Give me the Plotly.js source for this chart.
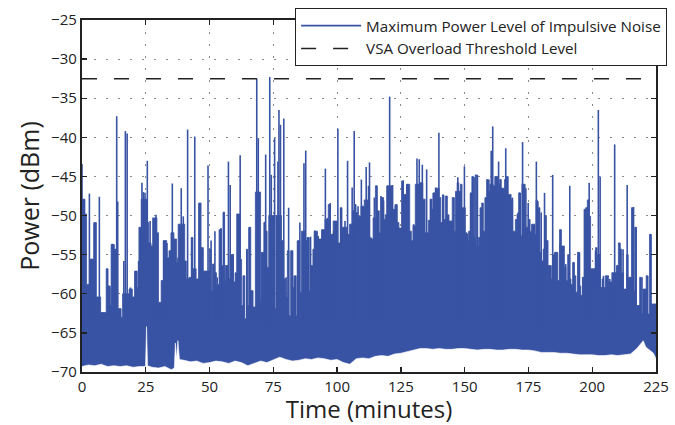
<!DOCTYPE html>
<html><head><meta charset="utf-8">
<script src="https://cdn.plot.ly/plotly-3.0.1.min.js"></script>
<style>html,body{margin:0;padding:0;background:#fff}#chart{width:675px;height:425px}</style>
</head><body><div id="chart"></div>
<script>
// ---- data ----
const xTicks = [0, 25, 50, 75, 100, 125, 150, 175, 200, 225];
const yTicks = [-70, -65, -60, -55, -50, -45, -40, -35, -30, -25];
const thresholdLevel = -32.5;

// lower edge (noise floor) of the trace
const floorTime = [0,2.5,5,7.5,10,12.5,15,17.5,20,22.5,24.9,25.3,25.7,27.5,30,32.5,35,36.2,36.6,37.0,37.6,38.2,40,42.5,45,47.5,50,52.5,55,57.5,60,62.5,65,67.5,70,72.5,75,77.5,80,82.5,85,87.5,90,92.5,95,97.5,100,102.5,105,107.5,110,112.5,115,117.5,120,122.5,125,127.5,130,132.5,135,137.5,140,142.5,145,147.5,150,152.5,155,157.5,160,162.5,165,167.5,170,172.5,175,177.5,180,182.5,185,187.5,190,192.5,195,197.5,200,202.5,205,207.5,210,212.5,215,217.5,219,220,221,222.5,224,225];
const floorLevel = [-69.3,-69.1,-69.2,-69.0,-69.3,-69.2,-69.3,-69.2,-69.4,-69.3,-69.3,-64.2,-69.2,-69.4,-69.5,-69.3,-69.7,-69.5,-66.3,-68.3,-66.0,-68.4,-68.5,-68.7,-68.6,-68.9,-68.8,-68.6,-68.7,-68.9,-68.6,-68.8,-69.2,-68.9,-68.6,-68.8,-68.5,-68.1,-68.4,-68.6,-68.5,-68.3,-68.4,-68.2,-68.3,-68.5,-68.4,-68.8,-69.0,-68.3,-68.2,-68.3,-68.0,-67.9,-68.0,-67.7,-67.6,-67.4,-67.2,-67.0,-67.0,-67.1,-67.0,-67.1,-67.1,-67.0,-67.0,-67.1,-67.2,-67.1,-67.1,-67.2,-67.2,-67.1,-67.1,-67.2,-67.2,-67.3,-67.5,-67.5,-67.5,-67.6,-67.6,-67.7,-67.8,-67.8,-67.8,-67.9,-67.9,-67.8,-67.9,-67.8,-67.7,-67.0,-66.3,-66.0,-66.8,-67.2,-67.6,-68.3];

// upper envelope of the dense body (step levels, minutes / dBm)
const envTime = [0,1.15,1.79,3.08,4.61,5.64,7.31,9.49,10.13,11.02,11.41,12.69,13.97,15.26,15.90,18.46,19.74,20.64,21.67,22.31,23.2,25.51,26.15,27.05,27.69,29.36,30.0,31.03,31.92,33.21,34.1,34.87,36.03,37.05,37.69,40.26,40.9,42.18,42.82,43.46,44.74,45.77,46.67,47.56,49.87,50.51,51.15,51.79,52.69,53.72,54.62,55.26,55.9,
56.15,57.43,58.07,59.36,60.0,60.64,61.92,62.56,63.2,63.84,64.48,64.87,65.38,66.15,67.05,67.95,70.0,70.51,71.28,71.79,72.56,73.2,75.38,76.0,78.2,78.97,79.87,80.51,81.15,81.79,82.69,83.33,83.97,84.61,85.38,86.0,87.56,88.2,89.1,89.74,90.51,91.02,92.3,93.97,95.25,96.53,97.18,98.46,100.0,101.28,101.92,103.84,104.87,106.15,106.79,107.43,108.07,109.36,110.64,111.92,112.56,
113.08,114.1,115.0,115.64,116.54,117.18,118.21,118.85,119.49,121.8,122.7,123.6,124.23,125.26,125.9,127.18,128.46,129.1,129.74,130.64,132.31,133.59,134.49,135.77,136.41,137.05,137.7,138.46,140.0,140.64,141.28,141.92,142.56,143.21,143.85,145.13,145.77,146.41,147.05,147.69,148.33,148.97,150.26,150.9,151.54,152.18,152.82,153.46,154.1,154.74,155.38,156.03,156.67,157.31,157.95,158.59,159.23,159.87,161.15,161.8,163.08,163.72,164.36,165.64,166.28,166.92,168.21,168.85,
169.23,169.87,170.51,171.15,171.79,172.44,173.72,175.0,175.64,176.28,177.56,177.95,178.46,178.85,179.49,180.13,180.77,181.41,182.05,182.69,183.97,184.62,185.26,186.54,187.18,187.82,189.1,189.74,190.38,191.03,191.67,192.31,192.95,193.59,194.23,194.87,195.51,196.15,196.79,197.44,198.08,198.72,199.36,201.28,201.92,203.21,203.85,204.49,205.13,206.41,207.69,208.97,209.62,210.26,210.9,211.54,212.18,213.46,214.1,215.38,216.03,216.67,217.31,218.59,219.23,219.87,221.15,221.79,222.44,223.08,224.36,225];
const envLevel = [-47.9,-49.8,-58.8,-55.6,-50.9,-60.4,-62.4,-56.8,-59.0,-61.5,-53.7,-54.3,-61.9,-63.0,-60.0,-59.4,-60.4,-57.1,-59.2,-51.5,-47.9,-50.9,-53.5,-53.9,-50.3,-52.2,-61.1,-58.3,-53.2,-55.4,-54.5,-52.2,-53.0,-56.0,-51.1,-55.8,-58.1,-57.9,-52.8,-56.8,-58.1,-48.4,-54.1,-57.1,-54.3,-59.6,-56.2,-57.3,-58.8,-51.8,-56.4,-49.6,-58.3,
-56.4,-58.1,-55.0,-58.5,-57.3,-49.8,-55.6,-61.5,-57.7,-63.2,-54.3,-61.5,-51.5,-59.6,-61.7,-47.0,-60.9,-54.7,-50.9,-52.0,-56.6,-50.0,-61.9,-50.0,-53.2,-58.1,-60.4,-54.5,-62.8,-54.5,-59.2,-57.7,-62.8,-53.2,-59.8,-52.0,-53.2,-52.8,-59.6,-56.4,-54.3,-52.0,-53.0,-51.8,-50.5,-48.6,-52.4,-50.7,-53.5,-49.0,-51.5,-52.4,-51.1,-49.4,-48.6,-49.6,-50.1,-48.8,-48.0,-48.0,-52.8,
-53.0,-50.3,-46.2,-49.4,-52.2,-47.7,-50.5,-49.9,-46.2,-49.2,-48.6,-50.9,-51.6,-45.6,-47.3,-46.0,-52.0,-53.2,-51.3,-46.0,-45.8,-47.9,-52.2,-50.6,-47.9,-49.2,-47.1,-46.5,-47.7,-50.9,-47.4,-50.5,-47.5,-49.9,-50.7,-47.7,-52.0,-46.9,-45.8,-46.9,-46.0,-49.0,-52.2,-53.2,-52.0,-47.1,-45.0,-52.8,-44.8,-53.9,-52.8,-49.0,-48.4,-52.0,-47.7,-45.4,-46.9,-46.0,-46.2,-45.0,-46.0,-45.4,-46.5,-45.4,-45.0,-47.3,-47.9,-52.0,
-52.0,-50.5,-49.8,-47.1,-52.6,-46.0,-51.5,-50.5,-52.0,-51.1,-52.4,-48.0,-48.2,-49.0,-54.7,-55.8,-54.3,-50.0,-53.2,-56.4,-58.1,-55.0,-54.7,-58.3,-51.8,-53.9,-56.6,-58.3,-55.0,-58.1,-58.8,-56.0,-57.7,-59.8,-54.7,-59.0,-60.2,-57.9,-49.2,-49.0,-48.0,-50.1,-56.8,-54.1,-55.0,-59.2,-58.1,-59.2,-57.7,-58.5,-57.3,-57.3,-56.4,-53.5,-54.3,-57.3,-59.4,-55.0,-57.9,-49.0,-59.6,-51.5,-61.5,-57.9,-62.6,-59.4,-57.7,-62.6,-52.4,-61.3,-61.3,-61.3];

// individual narrow impulses (time in minutes, peak in dBm)
const spikeTime = [0.0,0.8,2.9,3.8,4.9,6.2,6.8,8.1,10.0,10.9,11.9,12.8,13.6,14.0,15.1,16.4,17.0,17.7,19.0,20.9,21.8,22.2,23.5,24.1,24.7,25.6,26.7,27.7,28.2,29.0,29.5,30.5,32.0,33.3,34.4,35.4,36.4,37.6,38.9,39.7,41.4,42.1,43.1,44.2,45.9,46.9,47.8,49.4,50.6,52.1,53.0,54.5,55.6,57.4,58.1,58.7,59.2,61.4,62.0,63.3,64.6,65.6,66.5,68.5,69.1,70.4,71.7,72.0,73.6,74.2,75.5,76.8,77.2,77.8,79.1,80.0,81.0,82.3,83.2,84.5,85.4,87.0,87.7,89.6,91.3,92.6,94.1,95.4,96.2,97.3,98.6,100.3,101.4,103.1,104.1,105.4,105.9,106.7,108.2,109.5,111.4,112.3,112.7,113.3,114.6,115.6,117.2,118.2,119.7,120.6,121.7,122.9,125.9,127.4,130.0,131.3,132.2,133.4,135.1,137.0,137.7,138.7,139.9,141.5,142.8,144.3,145.8,147.3,148.2,149.9,151.1,152.4,153.7,155.0,156.7,158.2,159.5,160.4,161.0,162.3,163.3,164.6,166.1,166.9,168.7,171.0,171.8,172.7,174.0,174.9,176.5,178.1,179.0,180.0,181.3,183.2,184.5,185.5,187.4,187.7,189.6,191.2,192.8,195.0,196.4,197.3,198.2,198.8,199.9,201.3,202.4,203.1,204.4,205.6,206.9,208.8,209.7,210.8,212.1,213.7,214.9,216.2,217.2,218.5,219.5,220.4,221.7,223.0,223.8];
const spikePeak = [-43.4,-47.9,-47.2,-55.5,-51.0,-60.4,-47.6,-62.4,-56.8,-59.2,-53.6,-54.3,-37.3,-48.2,-61.9,-55.8,-39.2,-39.5,-59.2,-57.1,-64.3,-55.8,-45.8,-47.0,-47.1,-43.0,-50.7,-53.9,-50.5,-49.9,-54.7,-61.1,-53.2,-53.5,-54.5,-45.9,-53.0,-55.4,-46.5,-50.1,-39.0,-57.9,-52.8,-39.9,-48.5,-54.1,-57.1,-43.6,-53.2,-52.0,-57.9,-51.6,-49.5,-43.1,-46.1,-55.1,-54.9,-49.9,-42.3,-57.7,-54.3,-51.5,-59.6,-32.5,-40.1,-54.7,-50.8,-42.2,-32.3,-44.8,-40.1,-43.1,-36.5,-38.4,-37.6,-57.9,-49.0,-54.5,-57.7,-53.2,-50.9,-43.3,-41.7,-52.7,-51.9,-52.6,-51.8,-44.0,-50.3,-48.4,-52.0,-38.9,-49.0,-50.7,-43.0,-51.5,-46.4,-39.2,-48.8,-45.4,-43.8,-46.2,-43.2,-52.8,-47.7,-46.2,-47.5,-48.1,-46.2,-34.8,-46.1,-48.7,-45.5,-46.0,-51.1,-42.7,-42.8,-43.5,-44.1,-47.9,-47.1,-46.4,-39.4,-47.3,-47.5,-50.7,-47.7,-45.1,-46.9,-43.7,-52.3,-47.2,-45.1,-44.8,-49.0,-47.9,-45.4,-41.7,-38.6,-45.0,-43.1,-46.5,-41.4,-45.0,-47.7,-49.6,-47.1,-40.6,-46.5,-48.4,-51.1,-43.1,-49.0,-49.6,-47.1,-56.4,-44.8,-54.7,-53.6,-51.8,-56.2,-46.2,-56.0,-54.7,-57.9,-49.3,-48.9,-45.8,-57.5,-54.5,-36.5,-45.0,-57.7,-58.3,-58.1,-40.9,-56.4,-53.5,-54.3,-46.1,-57.9,-48.9,-51.5,-61.5,-57.9,-59.4,-57.7,-52.4,-61.3];

// ---- styling / assembly ----
const BLUE = '#3953a4';
const FONT = 'Open Sans, DejaVu Sans, sans-serif';
const yMin = yTicks[0], xMin = xTicks[0], xMax = xTicks[xTicks.length - 1];
const spikeBase = -64;

const spikeX = [], spikeY = [];
spikeTime.forEach((t, i) => { spikeX.push(t, t, null); spikeY.push(spikeBase, spikePeak[i], null); });

const hidden = { type: 'scatter', mode: 'lines', line: { width: 0 }, showlegend: false, hoverinfo: 'skip' };

const traces = [
  Object.assign({}, hidden, { x: [xMin, xMax], y: [yMin, yMin] }),
  { x: envTime, y: envLevel, type: 'scatter', mode: 'lines', fill: 'tonexty', fillcolor: BLUE,
    line: { width: 0.8, color: BLUE, shape: 'hv' }, showlegend: false, hoverinfo: 'skip' },
  Object.assign({}, hidden, { x: [xMin, xMax], y: [yMin, yMin] }),
  { x: floorTime, y: floorLevel, type: 'scatter', mode: 'lines', fill: 'tonexty', fillcolor: '#ffffff',
    line: { width: 0.6, color: '#ffffff' }, showlegend: false, hoverinfo: 'skip' },
  { x: spikeX, y: spikeY, type: 'scatter', mode: 'lines', connectgaps: false,
    name: 'Maximum Power Level of Impulsive Noise', line: { width: 1.6, color: BLUE } },
  { x: [xMin, xMax], y: [thresholdLevel, thresholdLevel], type: 'scatter', mode: 'lines',
    name: 'VSA Overload Threshold Level', line: { width: 1.5, color: '#222', dash: '15px,17px' } }
];

const axisCommon = {
  ticks: 'inside', ticklen: 5, tickwidth: 1.3, tickcolor: '#222',
  showline: true, linewidth: 2.2, linecolor: '#222', mirror: 'ticks',
  showgrid: true, gridcolor: '#8a8a8a', gridwidth: 1, griddash: '2px,10px',
  zeroline: false, tickfont: { family: FONT, size: 15, color: '#222' }
};

const layout = {
  width: 675, height: 425,
  margin: { l: 82, r: 8, t: 18, b: 53, pad: 0 },
  paper_bgcolor: '#fff', plot_bgcolor: '#fff',
  font: { family: FONT, color: '#222' },
  xaxis: Object.assign({}, axisCommon, {
    range: [xMin, xMax], tickvals: xTicks, ticktext: xTicks.map(String), ticklabeloverflow: 'allow',
    title: { text: 'Time (minutes)', font: { family: FONT, size: 24, color: '#222' }, standoff: 8 }
  }),
  yaxis: Object.assign({}, axisCommon, {
    range: [yMin, yTicks[yTicks.length - 1]], tickvals: yTicks,
    title: { text: 'Power (dBm)', font: { family: FONT, size: 25, color: '#222' }, standoff: 4 }
  }),
  legend: {
    x: (299 - 82) / 585, xanchor: 'left', y: 1 + 12 / 354, yanchor: 'top',
    traceorder: 'normal',
    bgcolor: '#fff', bordercolor: '#222', borderwidth: 1.2, itemwidth: 60,
    font: { family: FONT, size: 15.2, color: '#222' }, tracegroupgap: 0
  },
  showlegend: true
};

Plotly.newPlot('chart', traces, layout, { staticPlot: true, displayModeBar: false });
</script>
</body></html>
